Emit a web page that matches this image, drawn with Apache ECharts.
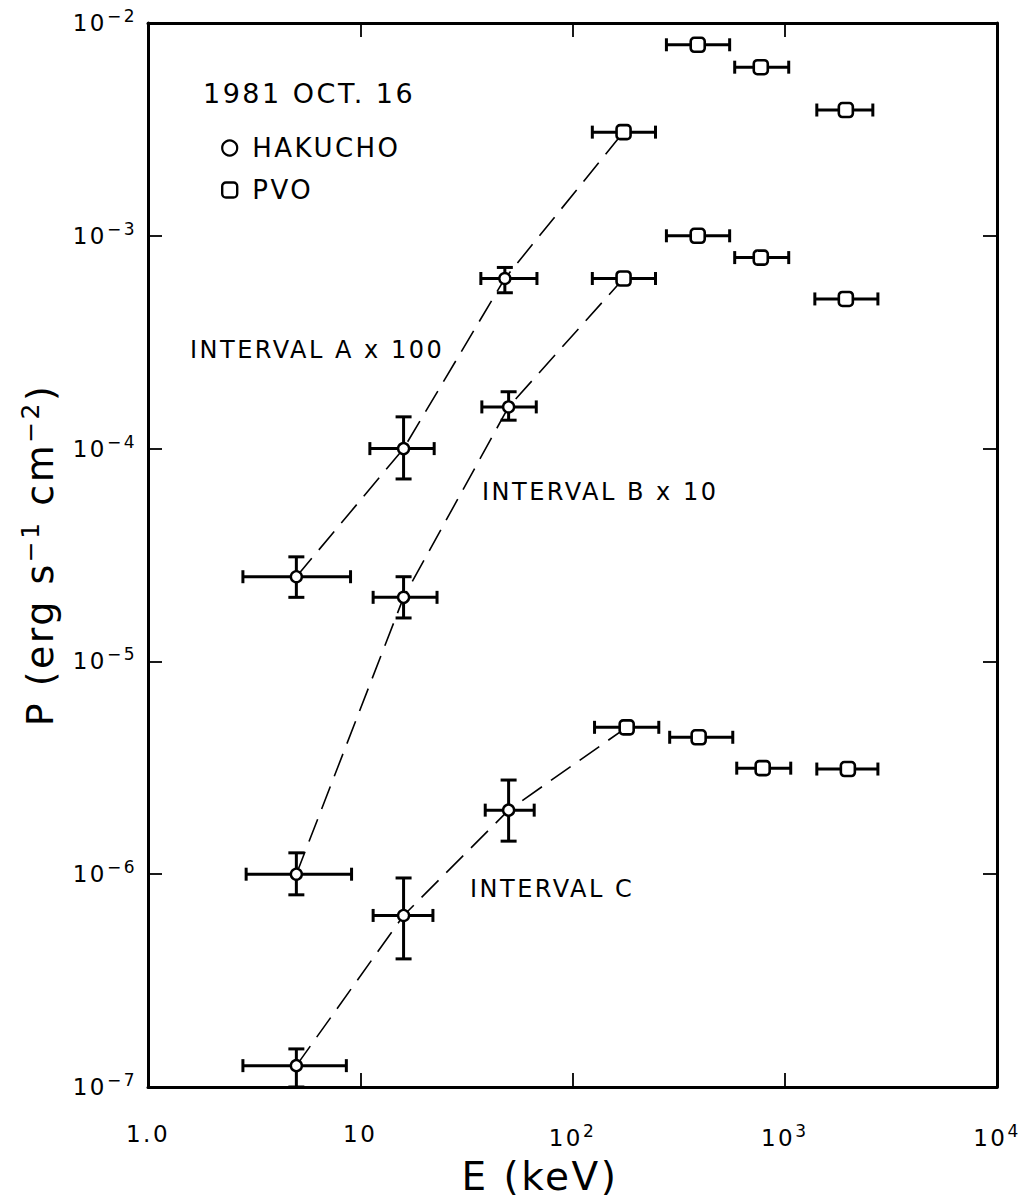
<!DOCTYPE html>
<html>
<head>
<meta charset="utf-8">
<script src="https://cdn.jsdelivr.net/npm/echarts@6/dist/echarts.min.js"></script>
<style>
html,body{margin:0;padding:0;background:#fff;}
#chart{width:1034px;height:1204px;}
#chart text{letter-spacing:2.5px;}
</style>
</head>
<body>
<div id="chart"></div>
<script>
// Rows: [E (keV), P, E_low, E_high, P_low, P_high]
const hakuchoA = [[5.0,2.5e-5,2.8,9.0,2.0e-5,3.1e-5],[16,1.0e-4,11.1,22.3,7.2e-5,1.41e-4],[48,6.3e-4,37,68,5.4e-4,7.1e-4]];
const hakuchoB = [[5.0,1.0e-6,2.9,9.1,8.0e-7,1.26e-6],[16,2.0e-5,11.5,23,1.6e-5,2.5e-5],[50,1.57e-4,37.4,67.5,1.36e-4,1.85e-4]];
const hakuchoC = [[5.0,1.26e-7,2.8,8.6,1.0e-7,1.51e-7],[16,6.4e-7,11.5,22,4.0e-7,9.6e-7],[50,2.0e-6,38.8,66,1.43e-6,2.77e-6]];
// Rows: [E (keV), P, E_low, E_high]
const pvoA = [[174,3.07e-3,124,246],[389,7.9e-3,277,550],[771,6.2e-3,581,1044],[1940,3.9e-3,1416,2600]];
const pvoB = [[174,6.3e-4,124,246],[389,1.0e-3,277,550],[771,7.9e-4,581,1044],[1940,5.05e-4,1386,2747]];
const pvoC = [[180,4.9e-6,127,255],[393,4.4e-6,287,569],[787,3.15e-6,594,1067],[1983,3.12e-6,1416,2747]];
const xTicks = [1, 10, 100, 1000, 10000];
const yTicks = [1e-7, 1e-6, 1e-5, 1e-4, 1e-3, 1e-2];

const FONT = 'DejaVu Sans';
const LS = '2.5px';

// text measurement that accounts for the letter-spaced lettering
const mctx = document.createElement('canvas').getContext('2d');
try { mctx.letterSpacing = LS; } catch (e) {}
if (echarts.setPlatformAPI) {
  echarts.setPlatformAPI({
    measureText: function(text, font){
      mctx.font = font || '12px sans-serif';
      return mctx.measureText(text);
    }
  });
}

const chart = echarts.init(document.getElementById('chart'), null, {renderer:'svg'});

function fitLine(hak, pvo){
  return hak.map(r => [r[0], r[1]]).concat([[pvo[0][0], pvo[0][1]]]);
}
const hakAll = hakuchoA.concat(hakuchoB, hakuchoC);
const pvoAll = pvoA.concat(pvoB, pvoC).map(r => [r[0], r[1], r[2], r[3], NaN, NaN]);
const errAll = hakAll.concat(pvoAll);

function expOf(v){ return Math.round(Math.log10(v)); }
const supStyle = {fontSize: 17, fontFamily: FONT, color:'#000', padding:[0,0,14,0]};

const axisCommon = {
  type: 'log', logBase: 10,
  axisLine: {show: true, lineStyle: {color:'#000', width: 3}},
  axisTick: {show: true, inside: true, length: 14, lineStyle: {color:'#000', width: 1.8}},
  minorTick: {show: false},
  splitLine: {show: false}
};

const option = {
  backgroundColor: '#fff',
  animation: false,
  grid: {left: 148, right: 37, top: 23, bottom: 117, containLabel: false},
  legend: {
    orient: 'vertical', left: 216, top: 128, itemGap: 12,
    itemWidth: 15, itemHeight: 15,
    textStyle: {fontFamily: FONT, fontSize: 26, lineHeight: 30, color:'#000', padding:[0,0,0,10]},
    data: [
      {name: 'HAKUCHO', icon: 'circle', itemStyle: {color:'#fff', borderColor:'#000', borderWidth: 2.2}},
      {name: 'PVO', icon: 'roundRect', itemStyle: {color:'#fff', borderColor:'#000', borderWidth: 2.4}}
    ]
  },
  xAxis: [
    Object.assign({}, axisCommon, {
      min: xTicks[0], max: xTicks[xTicks.length-1], position: 'bottom',
      axisLabel: {
        margin: 34, fontFamily: FONT, fontSize: 23, color:'#000',
        formatter: v => { const e = expOf(v); return e === 0 ? '1.0' : (e === 1 ? '10' : '10{s|' + e + '}'); },
        rich: {s: supStyle}
      }
    }),
    Object.assign({}, axisCommon, {
      min: xTicks[0], max: xTicks[xTicks.length-1], position: 'top',
      axisLabel: {show: false}
    })
  ],
  yAxis: [
    Object.assign({}, axisCommon, {
      min: yTicks[0], max: yTicks[yTicks.length-1], position: 'left',
      name: 'P (erg s{s|−1} cm{s|−2})', nameLocation: 'middle', nameGap: 84, nameRotate: 90,
      nameTextStyle: {fontFamily: FONT, fontSize: 38, color:'#000',
        rich: {s: {fontSize: 25, fontFamily: FONT, color:'#000', padding:[0,0,20,0]}}},
      axisLabel: {
        margin: 11, fontFamily: FONT, fontSize: 23, color:'#000',
        formatter: v => '10{s|−' + Math.abs(expOf(v)) + '}',
        rich: {s: supStyle}
      }
    }),
    Object.assign({}, axisCommon, {
      min: yTicks[0], max: yTicks[yTicks.length-1], position: 'right',
      axisLabel: {show: false}
    })
  ],
  graphic: [
    {type:'text', x: 203, y: 93, style:{text:'1981 OCT. 16', fontFamily: FONT, fontSize: 27, fill:'#000', verticalAlign:'middle', align:'left'}},
    {type:'text', x: 190, y: 350, style:{text:'INTERVAL A x 100', fontFamily: FONT, fontSize: 24, fill:'#000', verticalAlign:'middle', align:'left'}},
    {type:'text', x: 482, y: 492, style:{text:'INTERVAL B x 10', fontFamily: FONT, fontSize: 24, fill:'#000', verticalAlign:'middle', align:'left'}},
    {type:'text', x: 470, y: 889, style:{text:'INTERVAL C', fontFamily: FONT, fontSize: 24, fill:'#000', verticalAlign:'middle', align:'left'}},
    {type:'text', x: 540, y: 1176, style:{text:'E (keV)', fontFamily: FONT, fontSize: 39, fill:'#000', verticalAlign:'middle', align:'center'}}
  ],
  series: [
    {type:'line', name:'fitA', data: fitLine(hakuchoA, pvoA), symbol:'none', z: 1,
      lineStyle:{color:'#000', width:1.6, type:[24,11]}},
    {type:'line', name:'fitB', data: fitLine(hakuchoB, pvoB), symbol:'none', z: 1,
      lineStyle:{color:'#000', width:1.6, type:[24,11]}},
    {type:'line', name:'fitC', data: fitLine(hakuchoC, pvoC), symbol:'none', z: 1,
      lineStyle:{color:'#000', width:1.6, type:[24,11]}},
    {type:'custom', name:'errors', data: errAll, z: 2,
      encode: {x: 0, y: 1},
      renderItem: function(params, api){
        const x = api.value(0), y = api.value(1);
        const xl = api.value(2), xh = api.value(3), yl = api.value(4), yh = api.value(5);
        const pl = api.coord([xl, y]), ph = api.coord([xh, y]);
        const st = {stroke:'#000', lineWidth: 3, fill: null};
        const capH = 6.5, capV = 8;
        const children = [
          {type:'line', shape:{x1:pl[0], y1:pl[1], x2:ph[0], y2:ph[1]}, style: st},
          {type:'line', shape:{x1:pl[0], y1:pl[1]-capH, x2:pl[0], y2:pl[1]+capH}, style: st},
          {type:'line', shape:{x1:ph[0], y1:ph[1]-capH, x2:ph[0], y2:ph[1]+capH}, style: st}
        ];
        if (isFinite(yl) && isFinite(yh)) {
          const ql = api.coord([x, yl]), qh = api.coord([x, yh]);
          children.push({type:'line', shape:{x1:ql[0], y1:ql[1], x2:qh[0], y2:qh[1]}, style: st});
          children.push({type:'line', shape:{x1:ql[0]-capV, y1:ql[1], x2:ql[0]+capV, y2:ql[1]}, style: st});
          children.push({type:'line', shape:{x1:qh[0]-capV, y1:qh[1], x2:qh[0]+capV, y2:qh[1]}, style: st});
        }
        return {type:'group', children: children};
      }
    },
    {type:'scatter', name:'HAKUCHO', data: hakAll.map(r => [r[0], r[1]]), z: 3,
      symbol:'circle', symbolSize: 11,
      itemStyle:{color:'#fff', borderColor:'#000', borderWidth: 2.4, opacity: 1}},
    {type:'scatter', name:'PVO', data: pvoAll.map(r => [r[0], r[1]]), z: 3,
      symbol:'roundRect', symbolSize: 14,
      itemStyle:{color:'#fff', borderColor:'#000', borderWidth: 2.6, opacity: 1}}
  ]
};
chart.setOption(option);
</script>
</body>
</html>
